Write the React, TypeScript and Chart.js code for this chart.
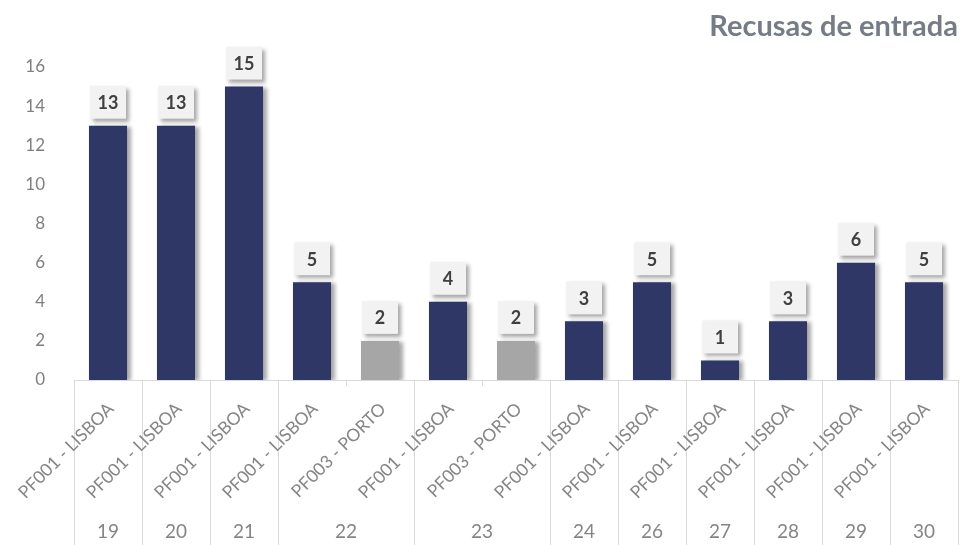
import React, { useEffect, useRef } from "react";
import { Chart, registerables } from "chart.js";

Chart.register(...registerables);

const title = "Recusas de entrada";
const days = ["19", "20", "21", "22", "22", "23", "23", "24", "26", "27", "28", "29", "30"];
const sites = [
  "PF001 - LISBOA",
  "PF001 - LISBOA",
  "PF001 - LISBOA",
  "PF001 - LISBOA",
  "PF003 - PORTO",
  "PF001 - LISBOA",
  "PF003 - PORTO",
  "PF001 - LISBOA",
  "PF001 - LISBOA",
  "PF001 - LISBOA",
  "PF001 - LISBOA",
  "PF001 - LISBOA",
  "PF001 - LISBOA",
];
const values = [13, 13, 15, 5, 2, 4, 2, 3, 5, 1, 3, 6, 5];
const yTicks = [0, 2, 4, 6, 8, 10, 12, 14, 16];

const NAVY = "#2E3766";
const GREY = "#A6A6A6";
const FONT = "Lato, 'Open Sans', sans-serif";

const barShadow = {
  id: "barShadow",
  beforeDatasetDraw(chart: any) {
    const ctx = chart.ctx;
    ctx.save();
    ctx.shadowColor = "rgba(0,0,0,0.35)";
    ctx.shadowOffsetX = 4;
    ctx.shadowOffsetY = 1;
    ctx.shadowBlur = 4;
  },
  afterDatasetDraw(chart: any) {
    chart.ctx.restore();
  },
};

const decorations = {
  id: "decorations",
  afterDraw(chart: any) {
    const ctx = chart.ctx;
    const x = chart.scales.x;
    const area = chart.chartArea;
    const H = chart.height;
    const n = sites.length;
    const half = (x.getPixelForValue(1) - x.getPixelForValue(0)) / 2;

    // title
    ctx.save();
    ctx.font = `bold 29px ${FONT}`;
    ctx.fillStyle = "#767C85";
    ctx.textAlign = "right";
    ctx.textBaseline = "middle";
    ctx.fillText(title, area.right, 27);
    ctx.restore();

    // axis line and separators
    ctx.save();
    ctx.strokeStyle = "#D9D9D9";
    ctx.lineWidth = 1;
    ctx.beginPath();
    ctx.moveTo(area.left, area.bottom + 0.5);
    ctx.lineTo(area.right, area.bottom + 0.5);
    ctx.stroke();
    for (let i = 0; i <= n; i++) {
      const bx = Math.round(x.getPixelForValue(i) - half) + 0.5;
      const isGroup = i === 0 || i === n || days[i] !== days[i - 1];
      ctx.beginPath();
      ctx.moveTo(bx, area.bottom);
      ctx.lineTo(bx, isGroup ? H : area.bottom + 6);
      ctx.stroke();
    }
    ctx.restore();

    // rotated site labels
    ctx.save();
    ctx.font = `17.5px ${FONT}`;
    ctx.fillStyle = "#858585";
    ctx.textAlign = "right";
    ctx.textBaseline = "middle";
    for (let i = 0; i < n; i++) {
      const cx = x.getPixelForValue(i);
      ctx.save();
      ctx.translate(cx + 3, area.bottom + 26);
      ctx.rotate(-Math.PI / 4);
      ctx.fillText(sites[i], 0, 0);
      ctx.restore();
    }
    ctx.restore();

    // group labels
    ctx.save();
    ctx.font = `19px ${FONT}`;
    ctx.fillStyle = "#858585";
    ctx.textAlign = "center";
    ctx.textBaseline = "middle";
    let start = 0;
    for (let i = 1; i <= n; i++) {
      if (i === n || days[i] !== days[start]) {
        const gx = (x.getPixelForValue(start) + x.getPixelForValue(i - 1)) / 2;
        ctx.fillText(days[start], gx, H - 13);
        start = i;
      }
    }
    ctx.restore();

    // data labels
    const meta = chart.getDatasetMeta(0);
    meta.data.forEach((bar: any, i: number) => {
      const bw = 36;
      const bh = 33;
      const bx = bar.x - bw / 2;
      const by = bar.y - 7 - bh;
      ctx.save();
      ctx.shadowColor = "rgba(0,0,0,0.35)";
      ctx.shadowOffsetX = 3;
      ctx.shadowOffsetY = 3;
      ctx.shadowBlur = 4;
      ctx.fillStyle = "#F2F2F2";
      ctx.fillRect(bx, by, bw, bh);
      ctx.restore();
      ctx.save();
      ctx.font = `bold 18px ${FONT}`;
      ctx.fillStyle = "#404040";
      ctx.textAlign = "center";
      ctx.textBaseline = "middle";
      ctx.fillText(String(values[i]), bar.x, by + bh / 2 + 1);
      ctx.restore();
    });
  },
};

export default function App() {
  const ref = useRef<HTMLCanvasElement>(null);
  useEffect(() => {
    if (!ref.current) return;
    const chart = new Chart(ref.current, {
      type: "bar",
      data: {
        labels: sites,
        datasets: [
          {
            data: values,
            backgroundColor: sites.map((s) => (s.includes("PORTO") ? GREY : NAVY)),
            borderWidth: 0,
            barPercentage: 0.56,
            categoryPercentage: 1,
          },
        ],
      },
      options: {
        animation: false,
        responsive: false,
        layout: { padding: { top: 67, right: 8, left: 0, bottom: 0 } },
        plugins: { legend: { display: false }, tooltip: { enabled: false } },
        scales: {
          x: {
            grid: { display: false },
            border: { display: false },
            ticks: { display: false },
            afterFit: (s: any) => {
              s.height = 165;
            },
          },
          y: {
            min: 0,
            max: 16,
            grid: { display: false },
            border: { display: false },
            afterFit: (s: any) => {
              s.width = 74;
            },
            afterBuildTicks: (s: any) => {
              s.ticks = yTicks.map((v) => ({ value: v }));
            },
            ticks: {
              padding: 21,
              color: "#808080",
              font: { family: FONT, size: 17 },
            },
          },
        },
      },
      plugins: [barShadow, decorations],
    });
    return () => chart.destroy();
  }, []);
  return (
    <div style={{ position: "absolute", left: 0, top: 0, width: 966, height: 545, background: "#fff" }}>
      <canvas ref={ref} width={966} height={545} />
    </div>
  );
}
